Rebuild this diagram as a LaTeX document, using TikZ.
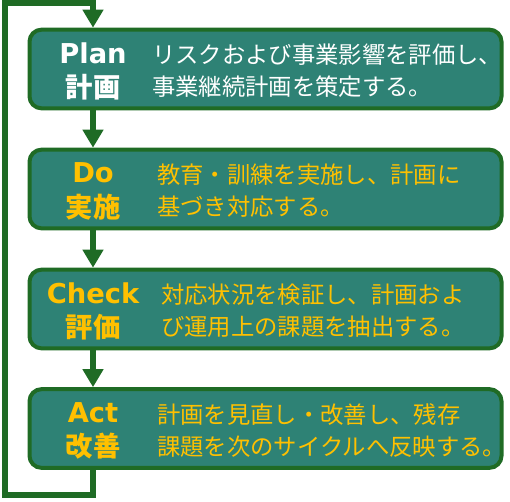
\documentclass[tikz,border=0pt]{standalone}
\usepackage{fontspec}
\setmainfont{DejaVu Sans}
\newfontfamily\jpfont{Noto Sans CJK JP}
\usetikzlibrary{arrows.meta}
\definecolor{pdcafill}{RGB}{46,130,117}
\definecolor{pdcaline}{RGB}{31,107,37}
\definecolor{pdcayellow}{RGB}{255,192,0}

\tikzset{
  stagebox/.style={draw=pdcaline, line width=3pt, fill=pdcafill, rounded corners=9pt,
    minimum width=354pt, minimum height=59pt, inner sep=0pt},
  stagehead/.style={align=center, inner sep=0pt, font=\bfseries\fontsize{20.5}{26}\selectfont},
  stagetext/.style={anchor=west, align=left, inner sep=0pt, font=\jpfont\fontsize{17.5}{24}\selectfont},
  flow/.style={draw=pdcaline, line width=4pt, -{Triangle[width=15pt,length=13.5pt]}},
}

\begin{document}
\begin{tikzpicture}[x=0.75pt,y=0.75pt,yscale=-1,xscale=1]
\useasboundingbox (0,0) rectangle (510,501);

%Shape: Rounded Rectangle [Plan]
\node[stagebox] (plan) at (265.5,69) {};
%Shape: Rounded Rectangle [Do]
\node[stagebox] (do) at (265.5,189) {};
%Shape: Rounded Rectangle [Check]
\node[stagebox] (check) at (265.5,309) {};
%Shape: Rounded Rectangle [Act]
\node[stagebox] (act) at (265.5,428.5) {};

% Text Node
\node[stagehead, text=white] (planhead) at (93,71.5) {Plan\\{\jpfont 計画}};
\node[stagetext, text=white] (plantext) at (152,71) {リスクおよび事業影響を評価し、\\事業継続計画を策定する。};
% Text Node
\node[stagehead, text=pdcayellow] (dohead) at (93,191.5) {Do\\{\jpfont 実施}};
\node[stagetext, text=pdcayellow] (dotext) at (157,191) {教育・訓練を実施し、計画に\\基づき対応する。};
% Text Node
\node[stagehead, text=pdcayellow] (checkhead) at (93,311.5) {Check\\{\jpfont 評価}};
\node[stagetext, text=pdcayellow] (checktext) at (161,311) {対応状況を検証し、計画およ\\び運用上の課題を抽出する。};
% Text Node
\node[stagehead, text=pdcayellow] (acthead) at (93,431) {Act\\{\jpfont 改善}};
\node[stagetext, text=pdcayellow] (acttext) at (157,430.5) {計画を見直し・改善し、残存\\課題を次のサイクルへ反映する。};

%Straight Lines [flow]
\draw[flow] (plan.south -| planhead) -- (do.north -| dohead);
\draw[flow] (do.south -| dohead) -- (check.north -| checkhead);
\draw[flow] (check.south -| checkhead) -- (act.north -| acthead);

%Straight Lines [feedback loop]
\coordinate (loopbl) at (5,495);
\coordinate (looptl) at (5,3);
\draw[flow] (act.south -| acthead) |- (loopbl) -- (looptl) -| (plan.north -| planhead);

\end{tikzpicture}
\end{document}
